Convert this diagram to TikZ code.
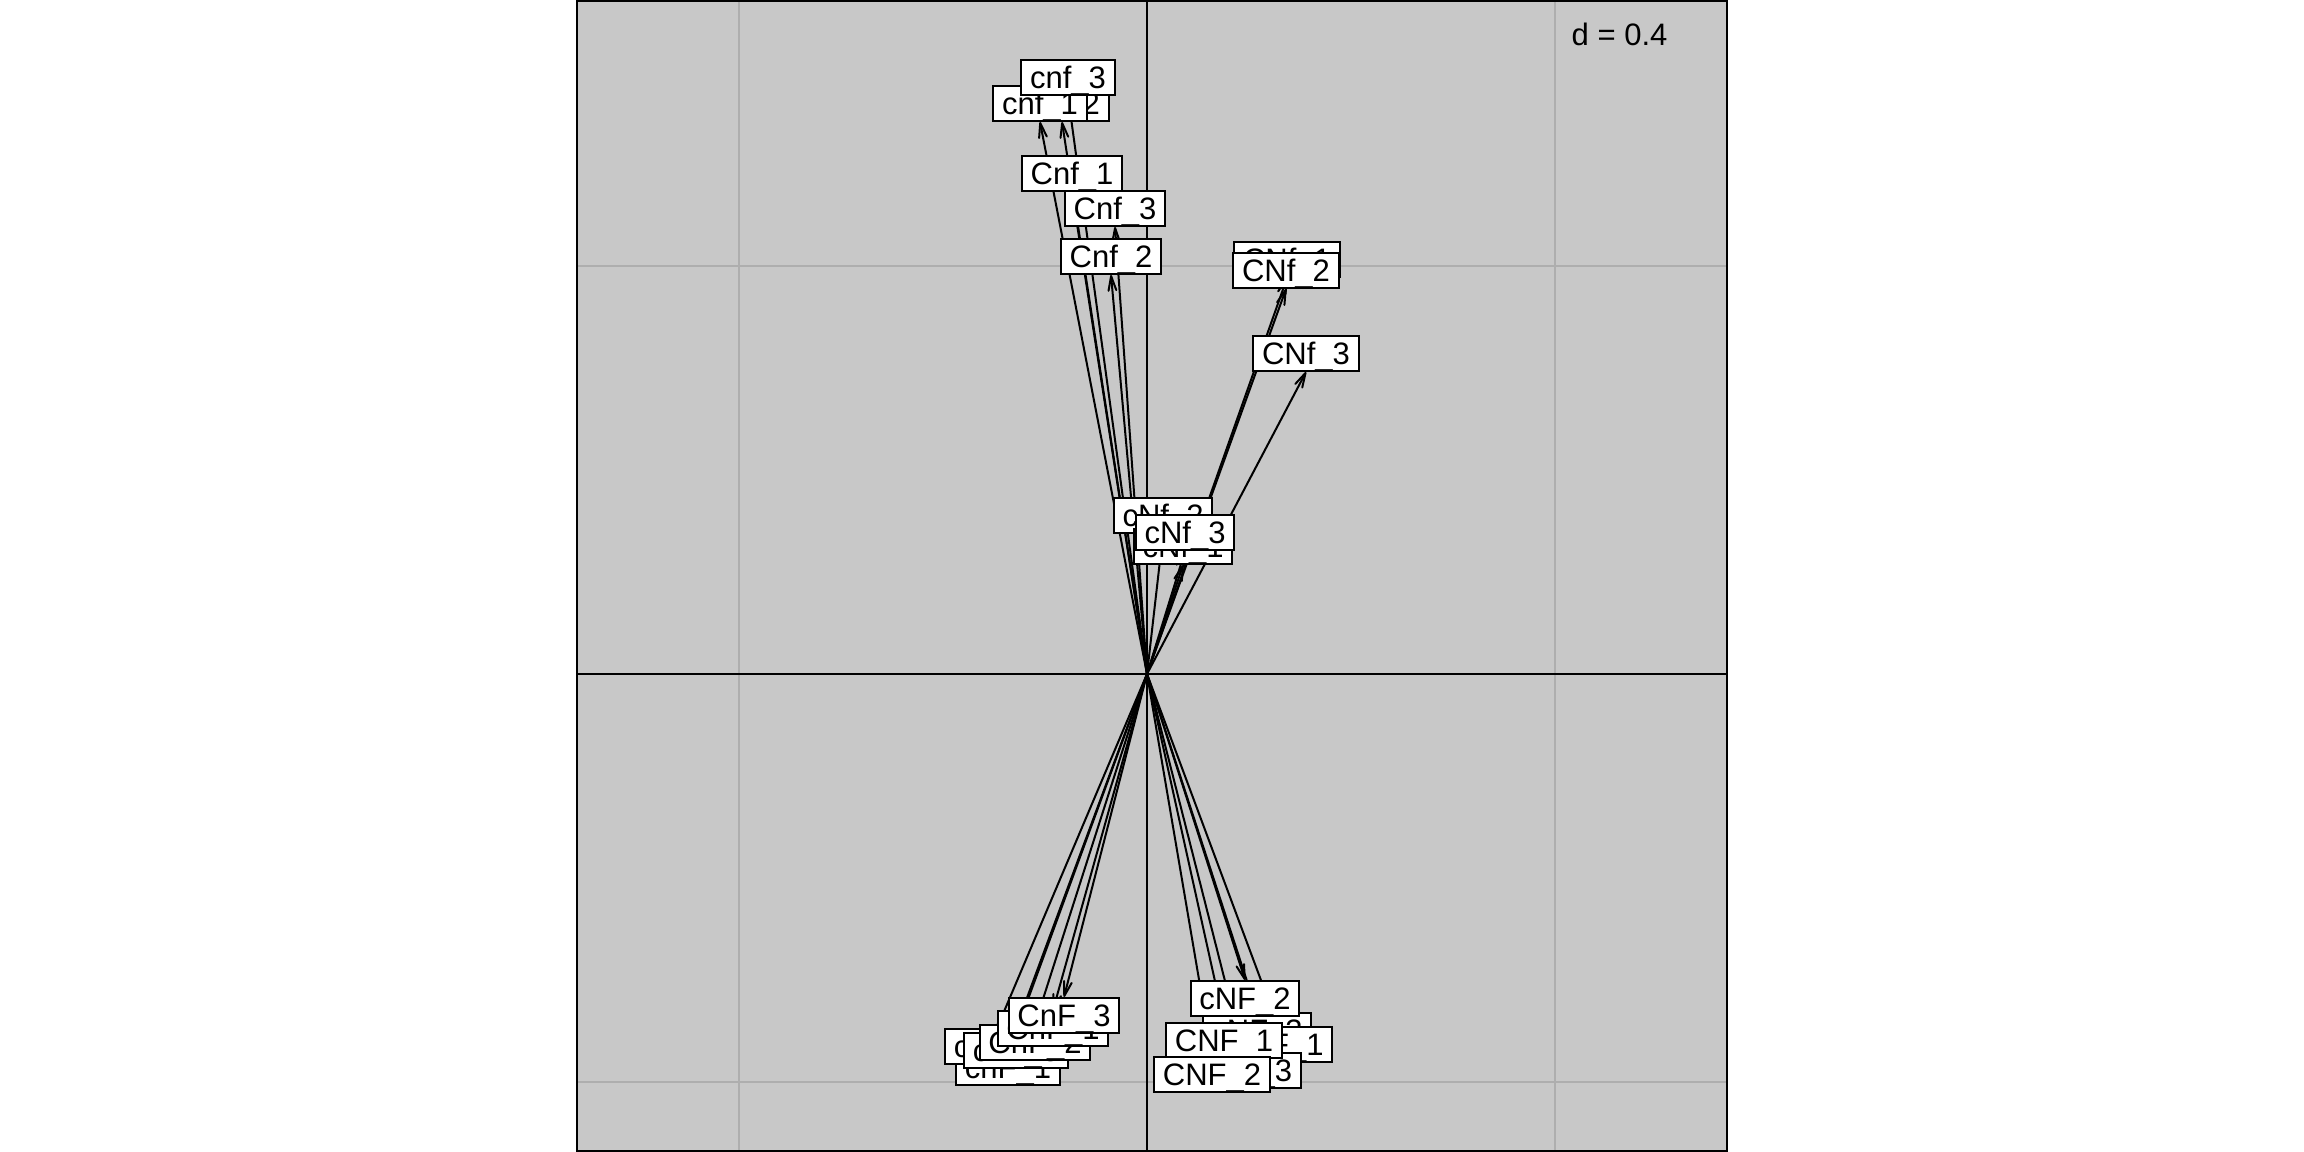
\documentclass[tikz,border=0pt]{standalone}
\usepackage{fontspec}
\setmainfont{Liberation Sans}
\usetikzlibrary{arrows.meta}
\pgfdeclarelayer{bg}
\pgfdeclarelayer{arr}
\pgfsetlayers{bg,arr,main}
\definecolor{panel}{HTML}{C8C8C8}
\definecolor{gridc}{HTML}{AEAEAE}
\newcommand\lblus{\raisebox{-0.011cm}{\_}}
\begin{document}
\begin{tikzpicture}[x=0.01cm,y=-0.01cm,
  lbl/.style={draw=black, fill=white, line width=0.02cm, inner xsep=0.086cm, inner ysep=0.065cm, text height=0.222cm, text depth=0pt, font=\fontsize{8.82pt}{10pt}\selectfont},
  up/.style={lbl, anchor=south},
  dn/.style={lbl, anchor=north},
  arr/.style={line width=0.02cm, line cap=round, -{Straight Barb[length=0.145cm, width=0.078cm, round]}},
  gridline/.style={draw=gridc, line width=0.02cm},
  axisline/.style={draw=black, line width=0.02cm}]
\useasboundingbox (0,0) rectangle (2304,1152);
\begin{pgfonlayer}{bg}
\fill[white] (0,0) rectangle (2304,1152);
\fill[panel] (576,0) rectangle (1728,1152);
\draw[gridline] (739,0) -- (739,1152);
\draw[gridline] (1555,0) -- (1555,1152);
\draw[gridline] (576,266) -- (1728,266);
\draw[gridline] (576,1082) -- (1728,1082);
\draw[axisline] (1147,0) -- (1147,1152);
\draw[axisline] (576,674) -- (1728,674);
\end{pgfonlayer}
\coordinate (O) at (1147,674);
% upper labels
\node[up] (cnf2) at (1062,122) {cnf\lblus 2};
\node[up] (cnf1) at (1040,122) {cnf\lblus 1};
\node[up] (cnf3) at (1068,96) {cnf\lblus 3};
\node[up] (Cnf1) at (1072,192) {Cnf\lblus 1};
\node[up] (Cnf3) at (1115,227) {Cnf\lblus 3};
\node[up] (Cnf2) at (1111,275) {Cnf\lblus 2};
\node[up] (CNf1) at (1287,278) {CNf\lblus 1};
\node[up] (CNf2) at (1286,289) {CNf\lblus 2};
\node[up] (CNf3) at (1306,372) {CNf\lblus 3};
\node[up] (cNf2) at (1163,534) {cNf\lblus 2};
\node[up] (cNf1) at (1183,565) {cNf\lblus 1};
\node[up] (cNf3) at (1185,551) {cNf\lblus 3};
% lower labels
\node[dn] (cnF1) at (1008,1049) {cnF\lblus 1};
\node[dn] (cnF2) at (997,1028) {cnF\lblus 2};
\node[dn] (cnF3) at (1016,1032) {cnF\lblus 3};
\node[dn] (CnF2) at (1035,1024) {CnF\lblus 2};
\node[dn] (CnF1) at (1053,1010) {CnF\lblus 1};
\node[dn] (CnF3) at (1064,997) {CnF\lblus 3};
\node[dn] (cNF3) at (1257,1012) {cNF\lblus 3};
\node[dn] (cNF1) at (1278,1026) {cNF\lblus 1};
\node[dn] (CNF3) at (1243,1052) {CNF\lblus 3};
\node[dn] (CNF1) at (1224,1022) {CNF\lblus 1};
\node[dn] (CNF2) at (1212,1056) {CNF\lblus 2};
\node[dn] (cNF2) at (1245,980) {cNF\lblus 2};
\begin{pgfonlayer}{arr}
\foreach \n in {cnf1,cnf2,cnf3,Cnf1,Cnf2,Cnf3,CNf1,CNf2,CNf3,cNf1,cNf2,cNf3}
  \draw[arr] (O) -- (\n.south);
\foreach \n in {cnF1,cnF2,cnF3,CnF1,CnF2,CnF3,cNF1,cNF2,cNF3,CNF1,CNF2,CNF3}
  \draw[arr] (O) -- (\n.north);
\end{pgfonlayer}
\draw[line width=0.02cm] (577,1) rectangle (1727,1151);
\node[anchor=base west, inner sep=0pt, font=\fontsize{8.82pt}{10pt}\selectfont] (dlab) at (1571,46) {d = 0.4};
\end{tikzpicture}
\end{document}
